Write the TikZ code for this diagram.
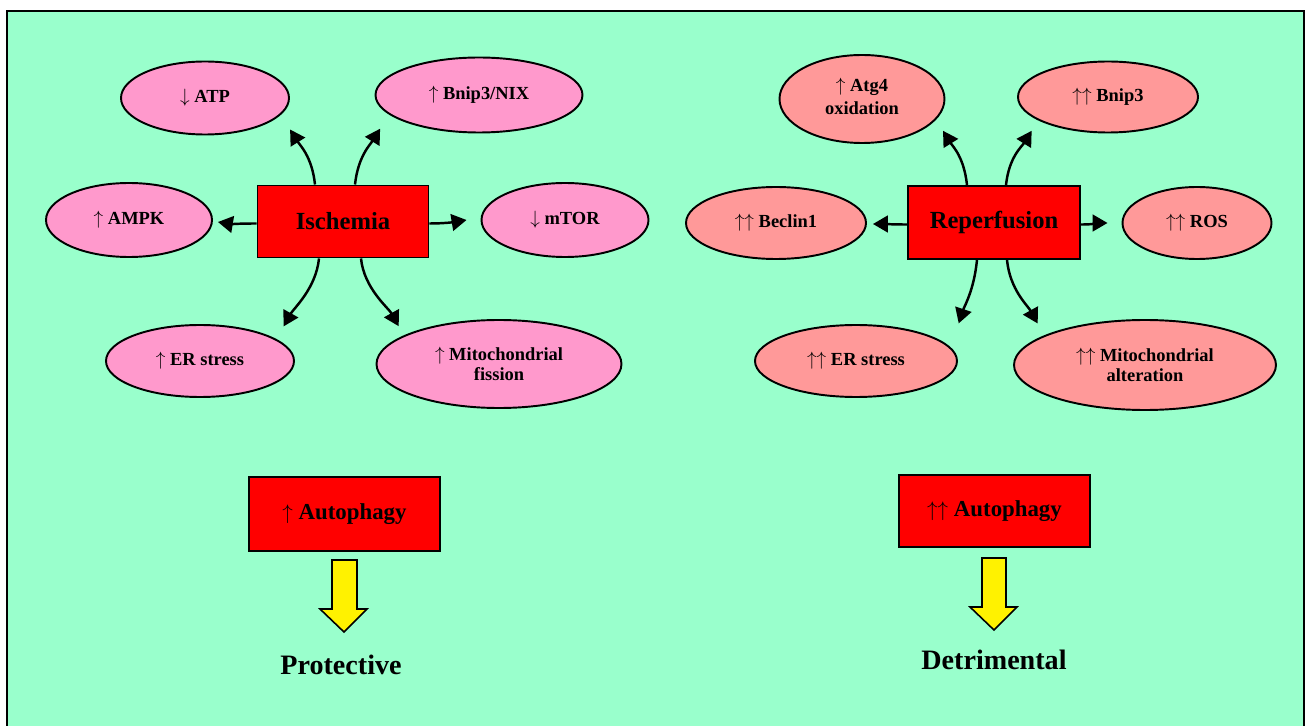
\documentclass[tikz,border=0pt]{standalone}
\usepackage{fontspec}
\setmainfont{Liberation Serif}
\usetikzlibrary{shapes.geometric,arrows.meta,calc}
\newdimen\pxu \pxu=0.02cm
\newcommand{\myup}{\(\uparrow\)}
\newcommand{\myupup}{\(\uparrow\uparrow\)}
\newcommand{\mydown}{\(\downarrow\)}
\definecolor{bgg}{RGB}{153,255,204}
\definecolor{pinkf}{RGB}{255,153,204}
\definecolor{salm}{RGB}{255,153,153}
\begin{document}
\begin{tikzpicture}[x=0.02cm,y=-0.02cm,
  ell/.style={ellipse,draw=black,line width=1.1pt,inner sep=0pt,align=center,
    font=\fontsize{10.5}{11}\selectfont\bfseries},
  lell/.style={ell,fill=pinkf},
  rell/.style={ell,fill=salm},
  cause/.style={rectangle,draw=black,line width=1.1pt,fill=red,inner sep=0pt,
    minimum width=171\pxu,minimum height=72\pxu,font=\fontsize{14}{16}\selectfont\bfseries},
  autobox/.style={rectangle,draw=black,line width=1.1pt,fill=red,inner sep=0pt,
    minimum width=191\pxu,font=\fontsize{13}{15}\selectfont\bfseries},
  outcome/.style={inner sep=0pt,font=\fontsize{16}{18}\selectfont\bfseries},
  arr/.style={line width=1.4pt,-{Triangle[length=8.5pt,width=9.5pt]}},
  blockarrow/.style={draw=black,line width=0.9pt,fill=yellow,line join=miter}]
\useasboundingbox (0,0) rectangle (1306,726);
\fill[white] (0,0) rectangle (1306,726);
\fill[bgg] (7,11) rectangle (1304,726);
\draw[line width=1.2pt] (7,732) -- (7,11) -- (1304,11) -- (1304,732);

% ---------- Ischemia side ----------
\node[cause] (isch) at (343,221.5) {Ischemia};
\node[lell,minimum width=168\pxu,minimum height=73\pxu] (atp) at (205,98) {\raisebox{3pt}{\mydown\ ATP}};
\node[lell,minimum width=207\pxu,minimum height=75\pxu] (bnx) at (479,95) {\raisebox{3pt}{\myup\ Bnip3/NIX}};
\node[lell,minimum width=166\pxu,minimum height=74\pxu] (ampk) at (129,220) {\raisebox{3pt}{\myup\ AMPK}};
\node[lell,minimum width=167\pxu,minimum height=74\pxu] (mtor) at (565,220) {\raisebox{2pt}{\mydown\ mTOR}};
\node[lell,minimum width=188\pxu,minimum height=72\pxu] (erl) at (200,361) {\raisebox{2pt}{\myup\ ER stress}};
\node[lell,minimum width=245\pxu,minimum height=88\pxu] (mitl) at (499,364) {\myup\ Mitochondrial\\fission};

\draw[arr] ($(isch.north)+(-28,0)$) .. controls +(-3,-28) and +(10,16) .. ($(atp.south east)+(25,5)$);
\draw[arr] ($(isch.north)+(12,0)$) .. controls +(3,-28) and +(-10,16) .. ($(bnx.south west)+(-25,6.5)$);
\draw[arr] ($(isch.west)+(0,2)$) .. controls +(-15,0) and +(12,2) .. ($(ampk.east)+(5,2)$);
\draw[arr] ($(isch.east)+(0,2)$) .. controls +(15,0) and +(-12,2) .. ($(mtor.west)+(-14,0)$);
\draw[arr] ($(isch.south)+(-24,0)$) .. controls +(-3,30) and +(10,-18) .. ($(erl.north east)+(16.5,-8.5)$);
\draw[arr] ($(isch.south)+(18,0)$) .. controls +(3,30) and +(-10,-18) .. ($(mitl.north west)+(-13,-6)$);

% ---------- Reperfusion side ----------
\node[cause,minimum width=172\pxu,minimum height=73\pxu] (rep) at (994,222.5) {Reperfusion};
\node[rell,minimum width=165\pxu,minimum height=88\pxu] (atg) at (862,99) {\raisebox{3pt}{\shortstack{\myup\ Atg4\\oxidation}}};
\node[rell,minimum width=180\pxu,minimum height=71\pxu] (bn3) at (1108,97) {\raisebox{3pt}{\myupup\ Bnip3}};
\node[rell,minimum width=180\pxu,minimum height=72\pxu] (bec) at (776,223) {\raisebox{3pt}{\myupup\ Beclin1}};
\node[rell,minimum width=149\pxu,minimum height=72\pxu] (ros) at (1197,223) {\raisebox{3pt}{\myupup\ ROS}};
\node[rell,minimum width=202\pxu,minimum height=72\pxu] (err) at (856,361) {\raisebox{3pt}{\myupup\ ER stress}};
\node[rell,minimum width=262\pxu,minimum height=90\pxu] (mitr) at (1145,365) {\myupup\ Mitochondrial\\alteration};

\draw[arr] ($(rep.north)+(-27,0)$) .. controls +(-3,-28) and +(10,16) .. ($(atg.south east)+(22,0)$);
\draw[arr] ($(rep.north)+(12,0)$) .. controls +(3,-28) and +(-10,16) .. ($(bn3.south west)+(-12,8)$);
\draw[arr] ($(rep.west)+(0,2)$) .. controls +(-15,0) and +(12,0) .. ($(bec.east)+(6,1)$);
\draw[arr] ($(rep.east)+(0,2)$) .. controls +(15,0) and +(-12,0) .. ($(ros.west)+(-14,0)$);
\draw[arr] ($(rep.south)+(-17,0)$) .. controls +(-3,30) and +(6,-18) .. ($(err.north east)+(30.6,-11.5)$);
\draw[arr] ($(rep.south)+(13,0)$) .. controls +(3,30) and +(-10,-18) .. ($(mitr.north west)+(-14,-9)$);

% ---------- Autophagy / outcome ----------
\node[autobox,minimum height=74\pxu] (autl) at (344.5,514) {\myup\ Autophagy};
\node[autobox,minimum height=72\pxu] (autr) at (994.5,511) {\myupup\ Autophagy};

\draw[blockarrow] (332,560) -- (357,560) -- (357,609) -- (367,609) -- (344,632) -- (320,609) -- (332,609) -- cycle;
\draw[blockarrow] (982,558) -- (1006,558) -- (1006,607) -- (1017,607) -- (994,630) -- (970,607) -- (982,607) -- cycle;

\node[outcome] (prot) at (341,665) {Protective};
\node[outcome] (detr) at (994,660) {Detrimental};
\end{tikzpicture}
\end{document}
